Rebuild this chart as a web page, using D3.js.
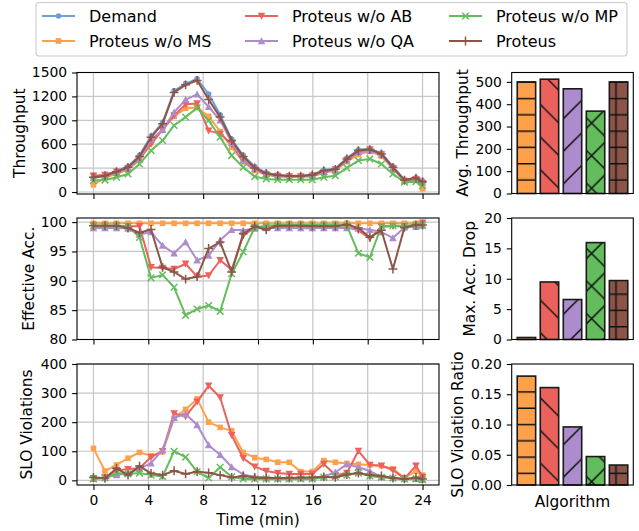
<!DOCTYPE html>
<html>
<head>
<meta charset="utf-8">
<script src="https://cdn.jsdelivr.net/npm/d3@7"></script>
<style>
  body { margin: 0; background: #fff; }
  text { font-family: "DejaVu Sans", sans-serif; fill: #000; }
</style>
</head>
<body>
<svg id="chart" width="639" height="531"></svg>
<script>
// sample times (minutes)
var times = [0, 0.84, 1.68, 2.52, 3.36, 4.2, 5.04, 5.88, 6.72, 7.56, 8.4, 9.24, 10.08, 10.92, 11.76,
             12.6, 13.44, 14.28, 15.12, 15.96, 16.8, 17.64, 18.48, 19.32, 20.16, 21.0, 21.84, 22.68, 23.52, 24];

// throughput
var thrDemand  = [190, 215, 265, 320, 460, 700, 870, 1270, 1360, 1420, 1230, 970, 660, 460, 320, 240, 215, 205, 205, 220, 275, 295, 425, 530, 545, 490, 320, 155, 180, 140];
var thrNoMS    = [90, 180, 230, 280, 400, 620, 790, 950, 1050, 1060, 950, 760, 560, 380, 270, 215, 195, 190, 190, 195, 240, 270, 380, 470, 510, 450, 290, 140, 150, 40];
var thrNoAB    = [205, 215, 255, 300, 420, 600, 780, 960, 1100, 1110, 770, 730, 600, 390, 280, 220, 200, 195, 195, 205, 250, 280, 400, 500, 530, 470, 300, 140, 160, 110];
var thrNoQA    = [175, 200, 245, 300, 415, 660, 780, 1000, 1160, 1225, 1070, 900, 620, 400, 290, 225, 200, 195, 195, 210, 255, 280, 400, 500, 520, 470, 300, 145, 165, 120];
var thrNoMP    = [143, 150, 185, 227, 352, 520, 646, 835, 940, 1057, 898, 688, 457, 310, 193, 164, 155, 155, 155, 155, 185, 205, 302, 395, 415, 352, 227, 122, 130, 80];
var thrProteus = [185, 205, 255, 310, 445, 688, 856, 1250, 1345, 1400, 1160, 940, 646, 445, 302, 235, 210, 200, 200, 214, 268, 285, 415, 520, 533, 478, 310, 150, 175, 130];

// effective accuracy
var accNoMS    = [99.8, 99.8, 99.8, 99.8, 99.8, 99.8, 99.8, 99.8, 99.8, 99.8, 99.8, 99.8, 99.8, 99.8, 99.8, 99.8, 99.8, 99.8, 99.8, 99.8, 99.8, 99.8, 99.8, 99.8, 99.8, 99.8, 99.8, 99.8, 99.8, 99.8];
var accNoAB    = [99.4, 99.4, 99.4, 99.3, 99.3, 92.3, 92.2, 92.0, 92.9, 90.7, 90.9, 93.5, 91.9, 97.7, 99.1, 99.2, 99.3, 99.1, 99.0, 98.9, 99.2, 99.0, 99.1, 98.6, 97.2, 99.2, 99.3, 99.3, 99.4, 99.9];
var accNoQA    = [99.0, 99.0, 99.0, 98.9, 97.9, 98.3, 96.0, 94.7, 96.6, 93.5, 94.3, 96.9, 98.7, 98.6, 98.9, 99.0, 99.0, 99.0, 99.0, 99.0, 99.0, 99.0, 99.0, 98.9, 98.7, 98.3, 97.3, 99.1, 99.2, 99.4];
var accNoMP    = [99.4, 99.4, 99.4, 99.3, 97.4, 90.5, 91.0, 88.9, 84.1, 85.2, 85.8, 84.8, 91.2, 94.9, 99.1, 99.4, 99.5, 99.5, 99.5, 99.5, 99.5, 99.5, 99.4, 94.7, 94.0, 99.3, 99.4, 99.4, 99.5, 99.5];
var accProteus = [99.4, 99.4, 99.4, 99.0, 98.2, 98.75, 92.3, 91.5, 90.3, 90.7, 95.5, 96.6, 91.5, 98.0, 99.3, 98.7, 99.4, 99.4, 99.4, 99.3, 99.3, 99.3, 99.6, 99.0, 97.4, 98.6, 92.0, 99.1, 99.5, 99.5];

// SLO violations
var sloNoMS    = [110, 32, 53, 76, 96, 85, 98, 213, 244, 280, 200, 182, 170, 96, 78, 72, 62, 62, 30, 30, 68, 62, 58, 55, 53, 50, 40, 8, 32, 18];
var sloNoAB    = [7, 10, 35, 38, 42, 80, 100, 230, 220, 270, 325, 285, 155, 76, 47, 32, 25, 22, 22, 22, 56, 18, 25, 101, 53, 50, 35, 7, 50, 12];
var sloNoQA    = [5, 10, 18, 25, 40, 59, 105, 215, 228, 190, 121, 88, 46, 20, 12, 10, 8, 8, 8, 8, 13, 28, 55, 45, 32, 12, 8, 5, 5, 3];
var sloNoMP    = [5, 8, 25, 22, 25, 18, 13, 100, 80, 30, 8, 45, 12, 5, 5, 5, 5, 5, 5, 5, 10, 12, 18, 25, 15, 10, 8, 5, 5, 2];
var sloProteus = [10, 7, 41, 18, 49, 24, 18, 33, 22, 30, 26, 18, 10, 15, 10, 8, 8, 8, 10, 10, 12, 10, 20, 25, 18, 15, 8, 5, 10, 5];

// summary bars
var algorithms    = ["Proteus w/o MS", "Proteus w/o AB", "Proteus w/o QA", "Proteus w/o MP", "Proteus"];
var avgThroughput = [500, 512, 469, 369, 500];
var maxAccDrop    = [0.33, 9.47, 6.58, 15.95, 9.7];
var sloRatio      = [0.18, 0.161, 0.096, 0.047, 0.033];

// ticks
var timeTicks  = [0, 4, 8, 12, 16, 20, 24];
var thrTicks   = [0, 300, 600, 900, 1200, 1500];
var accTicks   = [80, 85, 90, 95, 100];
var sloTicks   = [0, 100, 200, 300, 400];
var avgTicks   = [0, 100, 200, 300, 400, 500];
var dropTicks  = [0, 5, 10, 15, 20];
var ratioTicks = [0, 0.05, 0.10, 0.15, 0.20];

var series = [
  { name: "Demand",         color: "#6f9fd8", marker: "o", thr: thrDemand },
  { name: "Proteus w/o MS", color: "#ffa04b", marker: "s", thr: thrNoMS,    acc: accNoMS,    slo: sloNoMS },
  { name: "Proteus w/o AB", color: "#eb625d", marker: "v", thr: thrNoAB,    acc: accNoAB,    slo: sloNoAB },
  { name: "Proteus w/o QA", color: "#ad8ccd", marker: "^", thr: thrNoQA,    acc: accNoQA,    slo: sloNoQA },
  { name: "Proteus w/o MP", color: "#63bd5c", marker: "x", thr: thrNoMP,    acc: accNoMP,    slo: sloNoMP },
  { name: "Proteus",        color: "#8c5548", marker: "+", thr: thrProteus, acc: accProteus, slo: sloProteus }
];
var barColors  = ["#ffa04b", "#eb625d", "#ad8ccd", "#63bd5c", "#8c5548"];
var barHatches = ["h-", "h-back", "h-fwd", "h-x", "h-plus"];

var svg = d3.select("#chart");
var FS = 13.9;   // tick labels
var LFS = 15.4;  // axis labels

var lineX = [77, 439], barX = [511.7, 633.3];
var rows = [{ top: 72.5, bot: 194 }, { top: 218, bot: 339.5 }, { top: 364, bot: 485 }];

var x = d3.scaleLinear().domain([-1.2, 25.2]).range(lineX);
var intFmt = d3.format("d");

var panels = [
  { key: "thr", y: d3.scaleLinear().domain([-25, 1500]).range([rows[0].bot, rows[0].top]), ticks: thrTicks, label: "Throughput", lx: 20 },
  { key: "acc", y: d3.scaleLinear().domain([80, 100.7]).range([rows[1].bot, rows[1].top]), ticks: accTicks, label: "Effective Acc.", lx: 28.5 },
  { key: "slo", y: d3.scaleLinear().domain([-16, 400]).range([rows[2].bot, rows[2].top]), ticks: sloTicks, label: "SLO Violations", lx: 27 }
];

var barPanels = [
  { vals: avgThroughput, y: d3.scaleLinear().domain([0, 542]).range([193.5, rows[0].top]), ticks: avgTicks, fmt: intFmt, label: "Avg. Throughput", lx: 463, top: rows[0].top, bot: 193.5 },
  { vals: maxAccDrop, y: d3.scaleLinear().domain([0, 20]).range([rows[1].bot, rows[1].top]), ticks: dropTicks, fmt: intFmt, label: "Max. Acc. Drop", lx: 470, top: rows[1].top, bot: rows[1].bot },
  { vals: sloRatio, y: d3.scaleLinear().domain([0, 0.2]).range([rows[2].bot, rows[2].top]), ticks: ratioTicks, fmt: d3.format(".2f"), label: "SLO Violation Ratio", lx: 458, top: rows[2].top, bot: rows[2].bot }
];

// hatch patterns, in page coordinates
var T = 32.6;
var defs = svg.append("defs");
function hatch(id, parts) {
  var p = defs.append("pattern").attr("id", id).attr("patternUnits", "userSpaceOnUse")
    .attr("width", T).attr("height", T);
  var g = p.append("g").attr("stroke", "#111").attr("stroke-width", 1.5);
  if (parts.indexOf("h") >= 0) [0.8, 17.1].forEach(function (yy) {
    g.append("line").attr("x1", -1).attr("x2", T + 1).attr("y1", yy).attr("y2", yy);
  });
  if (parts.indexOf("v") >= 0) [12.9, 29.2].forEach(function (xx) {
    g.append("line").attr("y1", -1).attr("y2", T + 1).attr("x1", xx).attr("x2", xx);
  });
  if (parts.indexOf("f") >= 0) [30 - T, 30, 30 + T, 30 + 2 * T].forEach(function (c) {
    g.append("line").attr("x1", -T).attr("y1", c + T).attr("x2", 2 * T).attr("y2", c - 2 * T);
  });
  if (parts.indexOf("b") >= 0) [20.5 - 2 * T, 20.5 - T, 20.5, 20.5 + T].forEach(function (c) {
    g.append("line").attr("x1", -T).attr("y1", c - T).attr("x2", 2 * T).attr("y2", c + 2 * T);
  });
}
hatch("h-", "h");
hatch("h-back", "b");
hatch("h-fwd", "f");
hatch("h-x", "fb");
hatch("h-plus", "hv");

function styleAxis(g) {
  g.attr("font-size", FS).attr("font-family", "DejaVu Sans").attr("color", "#000");
  g.select(".domain").remove();
  g.selectAll(".tick line").attr("stroke-width", 1.1);
}

function drawMarker(g, type, cx, cy, color) {
  if (type === "o") {
    g.append("circle").attr("cx", cx).attr("cy", cy).attr("r", 2.8).attr("fill", color);
  } else if (type === "s") {
    g.append("rect").attr("x", cx - 2.8).attr("y", cy - 2.8).attr("width", 5.6).attr("height", 5.6).attr("fill", color);
  } else if (type === "v") {
    g.append("path").attr("d", "M" + (cx - 3.8) + "," + (cy - 3.2) + "L" + (cx + 3.8) + "," + (cy - 3.2) + "L" + cx + "," + (cy + 3.8) + "Z").attr("fill", color);
  } else if (type === "^") {
    g.append("path").attr("d", "M" + (cx - 3.8) + "," + (cy + 3.2) + "L" + (cx + 3.8) + "," + (cy + 3.2) + "L" + cx + "," + (cy - 3.8) + "Z").attr("fill", color);
  } else if (type === "x") {
    var a = 3.3;
    g.append("path").attr("d", "M" + (cx - a) + "," + (cy - a) + "L" + (cx + a) + "," + (cy + a) + "M" + (cx - a) + "," + (cy + a) + "L" + (cx + a) + "," + (cy - a))
      .attr("stroke", color).attr("stroke-width", 1.5).attr("fill", "none");
  } else if (type === "+") {
    var b = 4.4;
    g.append("path").attr("d", "M" + (cx - b) + "," + cy + "L" + (cx + b) + "," + cy + "M" + cx + "," + (cy - b) + "L" + cx + "," + (cy + b))
      .attr("stroke", color).attr("stroke-width", 1.5).attr("fill", "none");
  }
}

// line panels
panels.forEach(function (p, i) {
  var r = rows[i];
  var grid = svg.append("g").attr("stroke", "#c6c6c6").attr("stroke-width", 1.2);
  timeTicks.forEach(function (t) {
    grid.append("line").attr("x1", x(t)).attr("x2", x(t)).attr("y1", r.top).attr("y2", r.bot);
  });
  p.ticks.forEach(function (t) {
    grid.append("line").attr("x1", lineX[0]).attr("x2", lineX[1]).attr("y1", p.y(t)).attr("y2", p.y(t));
  });

  series.forEach(function (s) {
    var vals = s[p.key];
    if (!vals) return;
    var pts = times.map(function (t, k) { return [x(t), p.y(vals[k])]; });
    var g = svg.append("g");
    g.append("path").attr("d", d3.line()(pts)).attr("fill", "none")
      .attr("stroke", s.color).attr("stroke-width", 2).attr("stroke-linejoin", "round");
    pts.forEach(function (pt) { drawMarker(g, s.marker, pt[0], pt[1], s.color); });
  });

  svg.append("rect").attr("x", lineX[0]).attr("y", r.top).attr("width", lineX[1] - lineX[0])
    .attr("height", r.bot - r.top).attr("fill", "none").attr("stroke", "#000").attr("stroke-width", 1.1);

  svg.append("g").attr("transform", "translate(" + lineX[0] + ",0)")
    .call(d3.axisLeft(p.y).tickValues(p.ticks).tickFormat(intFmt).tickSize(4.9).tickPadding(4.9))
    .call(styleAxis);

  var xa = d3.axisBottom(x).tickValues(timeTicks).tickFormat(intFmt).tickSize(4.9).tickPadding(4.9);
  if (i < 2) xa.tickFormat("");
  svg.append("g").attr("transform", "translate(0," + r.bot + ")").call(xa).call(styleAxis);

  svg.append("text").attr("transform", "translate(" + p.lx + "," + ((r.top + r.bot) / 2) + ") rotate(-90)")
    .attr("text-anchor", "middle").attr("dy", "0.35em").attr("font-size", LFS).text(p.label);
});

svg.append("text").attr("x", (lineX[0] + lineX[1]) / 2).attr("y", 524.5)
  .attr("text-anchor", "middle").attr("font-size", LFS).text("Time (min)");

// bar panels
var xb = d3.scaleBand().domain(algorithms).range(barX).paddingInner(0.2).paddingOuter(0.24);

barPanels.forEach(function (p) {
  algorithms.forEach(function (a, k) {
    var bx = xb(a), by = p.y(p.vals[k]), bh = p.y(0) - by;
    svg.append("rect").attr("x", bx).attr("y", by).attr("width", xb.bandwidth()).attr("height", bh).attr("fill", barColors[k]);
    svg.append("rect").attr("x", bx).attr("y", by).attr("width", xb.bandwidth()).attr("height", bh).attr("fill", "url(#" + barHatches[k] + ")");
    svg.append("rect").attr("x", bx).attr("y", by).attr("width", xb.bandwidth()).attr("height", bh)
      .attr("fill", "none").attr("stroke", "#1a1a1a").attr("stroke-width", 1.6);
  });

  svg.append("rect").attr("x", barX[0]).attr("y", p.top).attr("width", barX[1] - barX[0])
    .attr("height", p.bot - p.top).attr("fill", "none").attr("stroke", "#000").attr("stroke-width", 1.1);

  svg.append("g").attr("transform", "translate(" + barX[0] + ",0)")
    .call(d3.axisLeft(p.y).tickValues(p.ticks).tickFormat(p.fmt).tickSize(4.9).tickPadding(4.9))
    .call(styleAxis);

  svg.append("text").attr("transform", "translate(" + p.lx + "," + ((p.top + p.bot) / 2) + ") rotate(-90)")
    .attr("text-anchor", "middle").attr("dy", "0.35em").attr("font-size", LFS).text(p.label);
});

svg.append("text").attr("x", (barX[0] + barX[1]) / 2).attr("y", 507)
  .attr("text-anchor", "middle").attr("font-size", LFS).text("Algorithm");

// legend
var leg = svg.append("g");
leg.append("rect").attr("x", 36).attr("y", 2.5).attr("width", 591).attr("height", 53.5).attr("rx", 3)
  .attr("fill", "#fff").attr("fill-opacity", 0.8).attr("stroke", "#cccccc").attr("stroke-width", 1.1);
var colX = [42, 245, 449], rowY = [16, 41];
series.forEach(function (s, k) {
  var cx = colX[Math.floor(k / 2)], cy = rowY[k % 2];
  leg.append("line").attr("x1", cx).attr("x2", cx + 33).attr("y1", cy).attr("y2", cy)
    .attr("stroke", s.color).attr("stroke-width", 2);
  drawMarker(leg, s.marker, cx + 16.5, cy, s.color);
  leg.append("text").attr("x", cx + 47).attr("y", cy).attr("dy", "0.35em").attr("font-size", 16).text(s.name);
});
</script>
</body>
</html>
